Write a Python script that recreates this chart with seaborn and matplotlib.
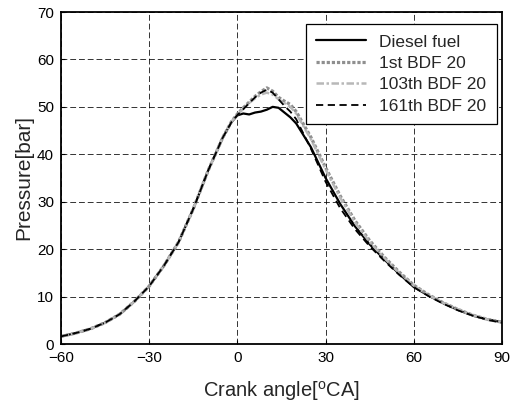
import matplotlib
matplotlib.use("Agg")
import matplotlib.pyplot as plt
import seaborn as sns
import pandas as pd

angle = [-60, -55, -50, -45, -40, -35, -30, -25, -20, -15, -10, -5, -2, 0, 2, 4, 6, 8, 10, 12, 14, 16, 18, 20,
         25, 30, 35, 40, 45, 50, 55, 60, 65, 70, 75, 80, 85, 90]

diesel = [1.6, 2.3, 3.2, 4.5, 6.3, 9.0, 12.2, 16.5, 21.5, 28.5, 36.5, 43.5, 46.8, 48.2, 48.6, 48.4, 48.8, 49.0,
          49.4, 50.0, 49.8, 48.8, 47.8, 46.5, 41.5, 35.0, 29.5, 24.8, 21.0, 17.8, 14.8, 12.0, 10.2, 8.6, 7.2, 6.0, 5.2, 4.6]
bdf1 = [1.6, 2.3, 3.2, 4.5, 6.3, 9.0, 12.2, 16.5, 21.5, 28.5, 36.5, 43.5, 46.9, 48.5, 49.8, 51.0, 52.2, 53.2,
        54.0, 53.3, 52.0, 51.2, 50.5, 49.0, 43.6, 37.2, 31.2, 26.0, 21.8, 18.3, 15.2, 12.4, 10.4, 8.7, 7.3, 6.1, 5.2, 4.6]
bdf103 = [1.6, 2.3, 3.2, 4.5, 6.3, 9.0, 12.2, 16.5, 21.5, 28.5, 36.5, 43.5, 46.9, 48.4, 49.6, 50.8, 51.8, 52.6,
          53.0, 52.6, 51.6, 50.8, 50.0, 48.6, 43.2, 36.8, 30.8, 25.6, 21.5, 18.1, 15.0, 12.3, 10.3, 8.7, 7.3, 6.1, 5.2, 4.6]
bdf161 = [1.6, 2.3, 3.2, 4.5, 6.3, 9.0, 12.2, 16.5, 21.5, 28.5, 36.5, 43.5, 46.8, 48.3, 49.5, 50.8, 52.0, 53.0,
          53.6, 53.0, 51.6, 50.2, 49.0, 47.4, 41.2, 34.2, 28.6, 24.2, 20.6, 17.5, 14.6, 12.0, 10.1, 8.5, 7.1, 6.0, 5.1, 4.5]

labels = ["Diesel fuel", "1st BDF 20", "103th BDF 20", "161th BDF 20"]
x_ticks = [-60, -30, 0, 30, 60, 90]
y_ticks = [0, 10, 20, 30, 40, 50, 60, 70]

sns.set_style("ticks")
plt.rcParams['font.family'] = ['Liberation Sans', 'DejaVu Sans']
plt.rcParams['mathtext.fontset'] = 'custom'
plt.rcParams['mathtext.rm'] = 'Liberation Sans'

fig = plt.figure(figsize=(5.2, 4.07), dpi=100)
ax = fig.add_axes([61 / 520, 63 / 407, 441 / 520, 332 / 407])

styles = [
    dict(color="black", linestyle="-", linewidth=1.6),
    dict(color="#8f8f8f", linestyle=(0, (1, 0.6)), linewidth=2.3),
    dict(color="#b8b8b8", linestyle=(0, (3, 1, 1, 1)), linewidth=1.8),
    dict(color="black", linestyle=(0, (4, 2.5)), linewidth=1.3),
]
for ys, lab, st in zip([diesel, bdf1, bdf103, bdf161], labels, styles):
    sns.lineplot(x=angle, y=ys, ax=ax, label=lab, **st)

ax.set_xlim(-60, 90)
ax.set_ylim(0, 70)
ax.set_xticks(x_ticks)
ax.set_yticks(y_ticks)
ax.tick_params(direction="in", length=3, labelsize=11, colors="black", pad=5)
ax.grid(True, color="black", linestyle=(0, (6, 3)), linewidth=0.7, alpha=0.8)
for s in ax.spines.values():
    s.set_visible(True)
    s.set_color("black")
    s.set_linewidth(1.3)

ax.set_xlabel("Crank angle[$^{\\mathrm{o}}$CA]", fontsize=14.5, labelpad=10)
ax.set_ylabel("Pressure[bar]", fontsize=15, labelpad=3)

leg = ax.legend(loc="upper right", bbox_to_anchor=(436 / 441, 1 - 12 / 332), fontsize=12.5, frameon=True,
                fancybox=False, edgecolor="black", framealpha=1, handlelength=2.9,
                borderpad=0.6, labelspacing=0.36, handletextpad=0.75, borderaxespad=0)
leg.get_frame().set_linewidth(0.9)

fig.savefig("out.png", dpi=100)
